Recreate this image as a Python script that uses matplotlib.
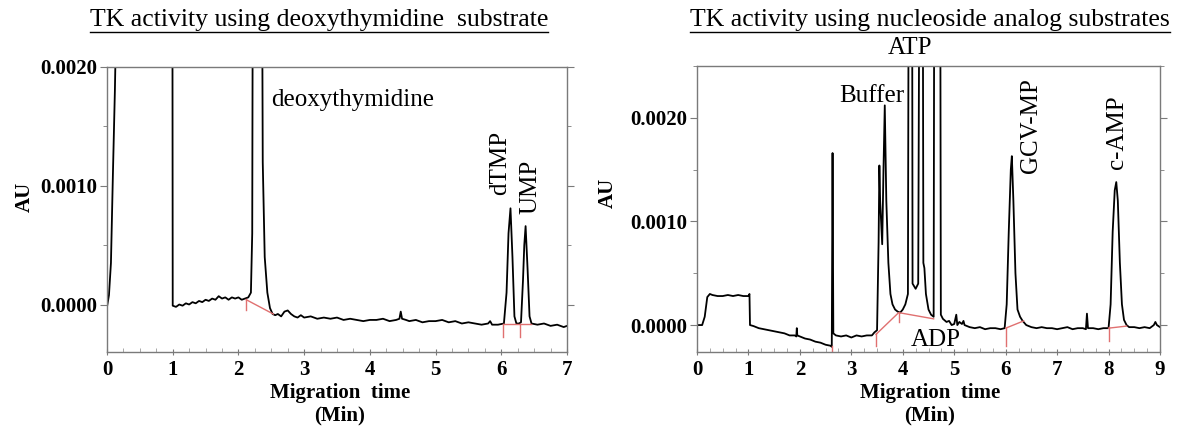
"""
Electropherograms: TK activity with deoxythymidine and with nucleoside analogs
"""

import numpy as np
import matplotlib
matplotlib.use('Agg')
import matplotlib.pyplot as plt
from matplotlib.ticker import MultipleLocator, FormatStrFormatter
from matplotlib.lines import Line2D

plt.rcParams['font.family'] = ['Liberation Serif', 'DejaVu Serif']

#------------------------------------------------------------------------------
# trace (time in min, absorbance in AU)

dt_time = [0.00, 0.03, 0.06, 0.09, 0.12, 0.16, 0.20, 0.99, 1.00, 1.05, 1.10,
           1.15, 1.20, 1.25, 1.30, 1.35, 1.40, 1.45, 1.50, 1.55, 1.60, 1.65,
           1.70, 1.75, 1.80, 1.85, 1.90, 1.95, 2.00, 2.05, 2.10, 2.15, 2.19,
           2.21, 2.23, 2.34, 2.37, 2.40, 2.44, 2.48, 2.52, 2.56, 2.60, 2.65,
           2.70, 2.75, 2.80, 2.85, 2.90, 2.95, 3.00, 3.10, 3.20, 3.30, 3.40,
           3.50, 3.60, 3.70, 3.80, 3.90, 4.00, 4.10, 4.20, 4.30, 4.40, 4.45,
           4.47, 4.49, 4.55, 4.60, 4.70, 4.80, 4.90, 5.00, 5.10, 5.20, 5.30,
           5.40, 5.50, 5.60, 5.70, 5.80, 5.83, 5.86, 5.95, 6.04, 6.08, 6.11,
           6.14, 6.17, 6.20, 6.23, 6.27, 6.30, 6.33, 6.35, 6.37, 6.40, 6.43,
           6.46, 6.55, 6.65, 6.75, 6.85, 6.95, 7.00]
dt_au = [-0.00002, 0.00008, 0.00035, 0.0011, 0.0018, 0.0030, 0.0060, 0.0060,
         -0.00001, -0.00002, 0.00000, -0.00001, 0.00001, 0.00000, 0.00002,
         0.00001, 0.00003, 0.00002, 0.00004, 0.00003, 0.00005, 0.00004,
         0.00007, 0.00005, 0.00006, 0.00004, 0.00006, 0.00005, 0.00006,
         0.00004, 0.00005, 0.00006, 0.00010, 0.0006, 0.0060, 0.0060, 0.0012,
         0.0004, 0.00010, -0.00003, -0.00008, -0.00009, -0.00008, -0.00010,
         -0.00006, -0.00005, -0.00008, -0.00010, -0.00011, -0.00009, -0.00011,
         -0.00010, -0.00012, -0.00011, -0.00012, -0.00011, -0.00013, -0.00012,
         -0.00013, -0.00014, -0.00013, -0.00013, -0.00012, -0.00014, -0.00013,
         -0.00012, -0.00006, -0.00012, -0.00013, -0.00014, -0.00013, -0.00015,
         -0.00014, -0.00014, -0.00013, -0.00015, -0.00014, -0.00016, -0.00015,
         -0.00016, -0.00017, -0.00016, -0.00014, -0.00017, -0.00017, -0.00016,
         0.00010, 0.00060, 0.00081, 0.00040, -0.00010, -0.00016, -0.00016,
         -0.00015, 0.00020, 0.00050, 0.00066, 0.00030, -0.00010, -0.00016,
         -0.00017, -0.00016, -0.00018, -0.00017, -0.00019, -0.00018]

# integration baselines (red) in left panel
dt_base = [([2.12, 2.53], [0.00004, -0.00008]),
           ([2.12, 2.12], [0.00005, -0.00005]),
           ([6.03, 6.45], [-0.00016, -0.00016]),
           ([6.03, 6.03], [-0.00016, -0.00027]),
           ([6.29, 6.29], [-0.00016, -0.00027])]

#------------------------------------------------------------------------------
# trace

na_time = [0.00, 0.10, 0.15, 0.20, 0.25, 0.30, 0.40, 0.50, 0.60, 0.70, 0.80,
           0.90, 1.00, 1.02, 1.03, 1.10, 1.20, 1.30, 1.40, 1.50, 1.60, 1.70,
           1.80, 1.90, 1.93, 1.94, 1.95, 2.00, 2.10, 2.20, 2.30, 2.40, 2.50,
           2.60, 2.62, 2.635, 2.65, 2.70, 2.80, 2.90, 3.00, 3.10, 3.20, 3.30,
           3.40, 3.45, 3.50, 3.53, 3.545, 3.56, 3.60, 3.625, 3.65, 3.68, 3.72,
           3.76, 3.80, 3.85, 3.90, 3.95, 4.00, 4.05, 4.10, 4.125, 4.175, 4.19,
           4.25, 4.30, 4.34, 4.38, 4.40, 4.42, 4.45, 4.50, 4.55, 4.60, 4.62,
           4.72, 4.74, 4.78, 4.85, 4.90, 4.95, 5.00, 5.04, 5.06, 5.10, 5.15,
           5.18, 5.20, 5.30, 5.40, 5.50, 5.60, 5.70, 5.80, 5.90, 5.98, 6.02,
           6.06, 6.10, 6.12, 6.15, 6.19, 6.23, 6.28, 6.33, 6.40, 6.50, 6.60,
           6.70, 6.80, 6.90, 7.00, 7.10, 7.20, 7.30, 7.40, 7.50, 7.56, 7.58,
           7.60, 7.70, 7.80, 7.90, 8.00, 8.04, 8.08, 8.12, 8.15, 8.18, 8.22,
           8.26, 8.30, 8.35, 8.40, 8.50, 8.60, 8.70, 8.80, 8.88, 8.91, 8.94,
           9.00]
na_au = [0.00000, 0.00000, 0.00008, 0.00027, 0.00030, 0.00029, 0.00028,
         0.00028, 0.00029, 0.00028, 0.00029, 0.00028, 0.00028, 0.00030,
         0.00000, -0.00001, -0.00003, -0.00004, -0.00005, -0.00006, -0.00007,
         -0.00008, -0.00010, -0.00010, -0.00011, -0.00003, -0.00010, -0.00011,
         -0.00013, -0.00014, -0.00016, -0.00017, -0.00019, -0.00020, -0.00021,
         0.00166, -0.00008, -0.00010, -0.00011, -0.00010, -0.00012, -0.00010,
         -0.00011, -0.00010, -0.00010, -0.00007, -0.00005, 0.00080, 0.00154,
         0.00120, 0.00078, 0.00150, 0.00212, 0.00120, 0.00060, 0.00030,
         0.00020, 0.00015, 0.00013, 0.00012, 0.00015, 0.00020, 0.00030,
         0.0060, 0.0060, 0.00040, 0.00035, 0.00040, 0.0060, 0.0060, 0.00060,
         0.00055, 0.00030, 0.00015, 0.00010, 0.00008, 0.0060, 0.0060, 0.00010,
         0.00006, 0.00003, 0.00004, 0.00000, 0.00001, 0.00010, 0.00000,
         0.00003, 0.00001, 0.00004, 0.00000, -0.00002, -0.00003, -0.00002,
         -0.00004, -0.00003, -0.00003, -0.00004, -0.00003, 0.00020, 0.00090,
         0.00150, 0.00163, 0.00120, 0.00050, 0.00015, 0.00008, 0.00004,
         0.00000, -0.00002, -0.00003, -0.00002, -0.00003, -0.00003, -0.00004,
         -0.00003, -0.00002, -0.00004, -0.00003, -0.00003, -0.00004, 0.00011,
         -0.00003, -0.00003, -0.00004, -0.00003, -0.00003, 0.00020, 0.00090,
         0.00130, 0.00138, 0.00120, 0.00060, 0.00020, 0.00005, 0.00000,
         -0.00002, -0.00002, -0.00003, -0.00002, -0.00003, 0.00000, 0.00003,
         0.00000, -0.00002]

na_base = [([2.62, 2.62], [-0.00020, -0.00026]),
           ([3.48, 3.92, 4.60], [-0.00009, 0.00012, 0.00006]),
           ([3.48, 3.48], [-0.00008, -0.00020]),
           ([3.92, 3.92], [0.00012, 0.00003]),
           ([6.00, 6.35], [-0.00003, 0.00004]),
           ([6.00, 6.00], [-0.00003, -0.00020]),
           ([8.00, 8.35], [-0.00003, -0.00001]),
           ([8.00, 8.00], [-0.00002, -0.00015])]

#------------------------------------------------------------------------------

W, H = 1185, 429
fig = plt.figure(figsize=(W/100, H/100), dpi=100)

def fx(px):
    return px / W

def fy(py):
    return 1 - py / H

def axes_px(x0, y0, x1, y1):
    return fig.add_axes([fx(x0), fy(y1), fx(x1) - fx(x0), fy(y0) - fy(y1)])

ax1 = axes_px(107, 67, 567, 352)
ax2 = axes_px(697, 66, 1160, 352)

def style(ax, xmax, ylim):
    ax.set_xlim(0, xmax)
    ax.set_ylim(*ylim)
    for sp in ax.spines.values():
        sp.set_color('#7a7a7a')
        sp.set_linewidth(1.0)
    ax.xaxis.set_major_locator(MultipleLocator(1))
    ax.xaxis.set_minor_locator(MultipleLocator(0.25))
    ax.yaxis.set_major_locator(MultipleLocator(0.001))
    ax.yaxis.set_minor_locator(MultipleLocator(0.0005))
    ax.yaxis.set_major_formatter(FormatStrFormatter('%.4f'))
    ax.tick_params(axis='x', which='major', direction='inout', length=5,
                   color='#7a7a7a', labelsize=15, pad=3)
    ax.tick_params(axis='x', which='minor', direction='in', length=3,
                   color='#9a9a9a')
    ax.tick_params(axis='y', which='both', direction='out', length=5,
                   color='#7a7a7a', labelsize=15, right=True, pad=2)
    ax.tick_params(axis='y', which='minor', length=3)
    for lab in ax.get_xticklabels() + ax.get_yticklabels():
        lab.set_fontweight('bold')

style(ax1, 7, (-0.0004, 0.0020))
style(ax2, 9, (-0.00026, 0.0025))

ax1.plot(dt_time, dt_au, color='black', lw=1.3)
for xs, ys in dt_base:
    ax1.plot(xs, ys, color='#e07070', lw=1.0)

ax2.plot(na_time, na_au, color='black', lw=1.3)
for xs, ys in na_base:
    ax2.plot(xs, ys, color='#e07070', lw=1.0)

# peak labels
lab = dict(fontsize=18, color='black')
ax1.text(2.5, 0.00172, 'deoxythymidine', ha='left', va='center', **lab)
ax1.text(5.98, 0.00092, 'dTMP', rotation=90, ha='center', va='bottom', **lab)
ax1.text(6.44, 0.00076, 'UMP', rotation=90, ha='center', va='bottom', **lab)

ax2.text(3.40, 0.00221, 'Buffer', ha='center', va='center', **lab)
ax2.text(4.15, 0.00267, 'ATP', ha='center', va='center', clip_on=False, **lab)
ax2.text(4.65, -0.00014, 'ADP', ha='center', va='center', **lab)
ax2.text(6.49, 0.00147, 'GCV-MP', rotation=90, ha='center', va='bottom', **lab)
ax2.text(8.17, 0.00151, 'c-AMP', rotation=90, ha='center', va='bottom', **lab)

# axis labels
bold = dict(fontsize=15, fontweight='bold', ha='center', va='center')
fig.text(fx(25), fy(197), 'AU', rotation=90, **bold)
fig.text(fx(608), fy(193), 'AU', rotation=90, **bold)
fig.text(fx(340), fy(393), 'Migration  time', **bold)
fig.text(fx(340), fy(415), '(Min)', **bold)
fig.text(fx(930), fy(393), 'Migration  time', **bold)
fig.text(fx(930), fy(415), '(Min)', **bold)

# underlined titles
t1 = fig.text(fx(319), fy(20), 'TK activity using deoxythymidine  substrate',
              fontsize=18.5, ha='center', va='center')
t2 = fig.text(fx(930), fy(20), 'TK activity using nucleoside analog substrates',
              fontsize=18.5, ha='center', va='center')

fig.canvas.draw()
rend = fig.canvas.get_renderer()
for t in (t1, t2):
    bb = t.get_window_extent(rend)
    yline = (bb.y0 - 1) / H
    fig.add_artist(Line2D([bb.x0 / W, bb.x1 / W], [yline, yline],
                          color='black', lw=1.0))

fig.savefig('out.png', dpi=100)
